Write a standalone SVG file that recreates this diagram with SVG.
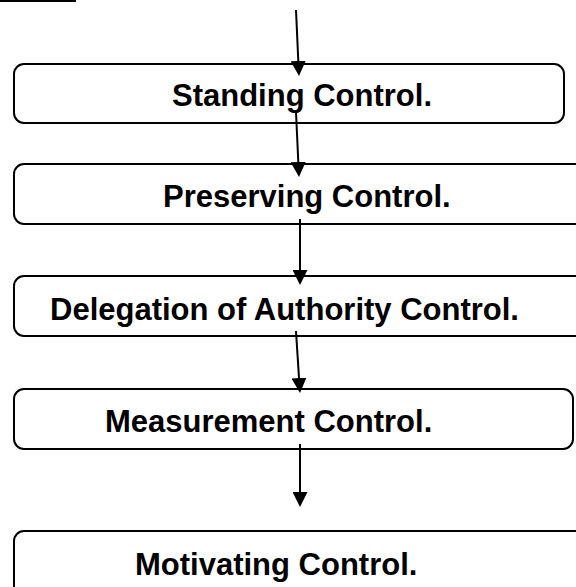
<svg xmlns="http://www.w3.org/2000/svg" width="576" height="587" viewBox="0 0 576 587">
<style>
.box{fill:#fff;stroke:#000;stroke-width:2}
.lbl{font-family:"Liberation Sans",Arial,sans-serif;font-weight:bold;font-size:31px;fill:#000}
.con{stroke:#000;stroke-width:2;fill:none;marker-end:url(#ah)}
</style>
<defs>
<marker id="ah" markerUnits="userSpaceOnUse" viewBox="0 0 15 15" refX="0" refY="7.5" markerWidth="15" markerHeight="15" orient="auto">
<path d="M0,0 L15,7.5 L0,15 z" fill="#000"/>
</marker>
</defs>
<line x1="0" y1="1" x2="76" y2="1" stroke="#000" stroke-width="2"/>
<g id="n1"><rect class="box" x="14" y="64" width="550" height="59" rx="10"/><text class="lbl" x="172" y="106">Standing Control.</text></g>
<g id="n2"><rect class="box" x="14" y="164" width="580" height="60" rx="10"/><text class="lbl" x="163" y="207">Preserving Control.</text></g>
<g id="n3"><rect class="box" x="14" y="276" width="580" height="60" rx="10"/><text class="lbl" x="50" y="320">Delegation of Authority Control.</text></g>
<g id="n4"><rect class="box" x="14" y="389" width="559" height="60" rx="10"/><text class="lbl" x="105" y="432">Measurement Control.</text></g>
<g id="n5"><rect class="box" x="14" y="531" width="580" height="80" rx="10"/><text class="lbl" x="135" y="575">Motivating Control.</text></g>
<g id="connectors">
<line class="con" x1="296" y1="10" x2="298.3" y2="61"/>
<line class="con" x1="296" y1="112" x2="298.3" y2="162"/>
<line class="con" x1="300" y1="219" x2="300" y2="270"/>
<line class="con" x1="296" y1="331" x2="299" y2="378"/>
<line class="con" x1="300" y1="444" x2="300" y2="492"/>
</g>
</svg>
